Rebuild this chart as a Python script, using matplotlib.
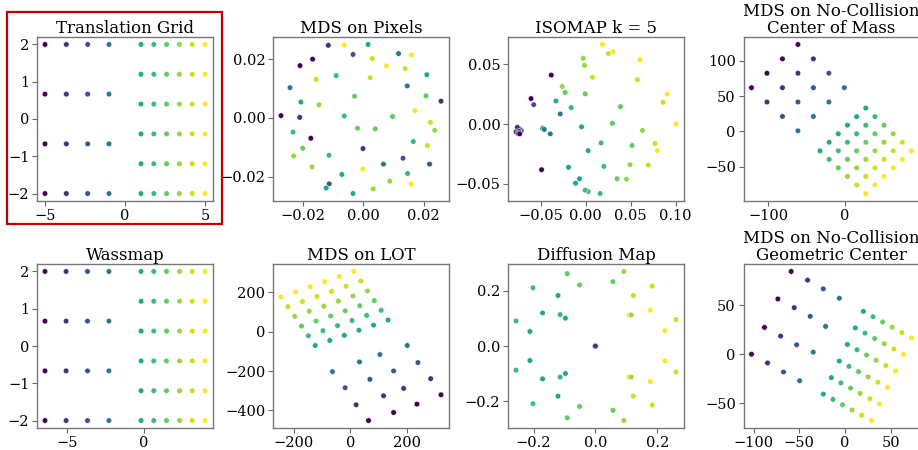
import numpy as np
import matplotlib
matplotlib.use('Agg')
import matplotlib.pyplot as plt
from matplotlib.patches import Rectangle

plt.rcParams['font.family'] = ['DejaVu Serif']

# colour of each point = x position of the object in the translation grid
GROUP_X = [-5, -3.667, -2.333, -1, 1, 1.8, 2.6, 3.4, 4.2, 5]

# shared group order for the grid-like panels (4 left columns x4, 6 right columns x6)
GRID_G = [0, 0, 0, 0, 1, 1, 1, 1, 2, 2, 2, 2, 3, 3, 3, 3,
          4, 4, 4, 4, 4, 4, 5, 5, 5, 5, 5, 5, 6, 6, 6, 6, 6, 6,
          7, 7, 7, 7, 7, 7, 8, 8, 8, 8, 8, 8, 9, 9, 9, 9, 9, 9]

# Translation Grid
TRANS_X = [-5, -5, -5, -5, -3.667, -3.667, -3.667, -3.667,
           -2.333, -2.333, -2.333, -2.333, -1, -1, -1, -1,
           1, 1, 1, 1, 1, 1, 1.8, 1.8, 1.8, 1.8, 1.8, 1.8,
           2.6, 2.6, 2.6, 2.6, 2.6, 2.6, 3.4, 3.4, 3.4, 3.4, 3.4, 3.4,
           4.2, 4.2, 4.2, 4.2, 4.2, 4.2, 5, 5, 5, 5, 5, 5]
TRANS_Y = [2, 0.667, -0.667, -2, 2, 0.667, -0.667, -2,
           2, 0.667, -0.667, -2, 2, 0.667, -0.667, -2,
           2, 1.2, 0.4, -0.4, -1.2, -2, 2, 1.2, 0.4, -0.4, -1.2, -2,
           2, 1.2, 0.4, -0.4, -1.2, -2, 2, 1.2, 0.4, -0.4, -1.2, -2,
           2, 1.2, 0.4, -0.4, -1.2, -2, 2, 1.2, 0.4, -0.4, -1.2, -2]

# Wassmap
WASS_X = [-6.41, -6.41, -6.41, -6.41, -5.04, -5.04, -5.04, -5.04,
          -3.65, -3.65, -3.65, -3.65, -2.26, -2.26, -2.26, -2.26,
          -0.17, -0.17, -0.17, -0.17, -0.17, -0.17, 0.65, 0.65, 0.65, 0.65, 0.65, 0.65,
          1.48, 1.48, 1.48, 1.48, 1.48, 1.48, 2.33, 2.33, 2.33, 2.33, 2.33, 2.33,
          3.15, 3.15, 3.15, 3.15, 3.15, 3.15, 3.98, 3.98, 3.98, 3.98, 3.98, 3.98]
WASS_Y = TRANS_Y

# MDS on Pixels
PIX_X = [-0.0116, -0.0063, 0.0016, -0.0034, 0.0117, 0.0160, 0.0030, -0.0210, -0.0168,
         0.0077, 0.0139, -0.0090, -0.0156, 0.0023, 0.0211, -0.0243, 0.0146, -0.0207,
         -0.0147, -0.0029, 0.0208, 0.0258, -0.0273, -0.0211, -0.0063, 0.0097, 0.0171,
         0.0223, 0.0237, -0.0233, -0.0019, 0.0040, -0.0174, -0.0201, -0.0001, 0.0166,
         0.0213, -0.0231, -0.0114, -0.0170, 0.0067, 0.0132, 0.0220, -0.0071, -0.0001,
         0.0088, 0.0147, 0.0159, -0.0113, -0.0123, -0.0034, 0.0033]
PIX_Y = [0.0247, 0.0248, 0.0250, 0.0216, 0.0219, 0.0214, 0.0202, 0.0178, 0.0200,
         0.0177, 0.0168, 0.0144, 0.0131, 0.0137, 0.0147, 0.0103, 0.0109, 0.0054,
         0.0045, 0.0074, 0.0075, 0.0057, 0.0008, 0.0002, 0.0007, 0.0005, 0.0025,
         -0.0015, -0.0042, -0.0048, -0.0035, -0.0037, -0.0069, -0.0103, -0.0104, -0.0080,
         -0.0094, -0.0129, -0.0127, -0.0166, -0.0157, -0.0137, -0.0157, -0.0192, -0.0174,
         -0.0215, -0.0189, -0.0225, -0.0224, -0.0238, -0.0257, -0.0241]
PIX_G = [1, 9, 4, 2, 3, 9, 8, 0, 0, 9, 8, 5, 8, 8, 4, 3, 3, 4, 7, 6, 6, 1, 0, 1, 5, 6,
         9, 8, 7, 5, 6, 6, 0, 6, 1, 5, 8, 7, 5, 7, 3, 2, 2, 4, 9, 7, 5, 9, 2, 4, 4, 7]

# ISOMAP k = 5
ISO_X = [0.0185, 0.0304, 0.0604, 0.0907, 0.1004, 0.0796,
         0.0252, 0.0074, 0.0574, 0.0859, 0.0770, 0.0696,
         -0.0030, -0.0015, 0.0630, 0.0493, 0.0452, -0.0263,
         -0.0007, 0.0385, 0.0296, 0.0515, 0.0348, -0.0230,
         -0.0163, 0.0170, 0.0200, 0.0026, 0.0159, -0.0007,
         -0.0333, -0.0048, 0.0026, -0.0193, -0.0070, -0.0115,
         -0.0285, -0.0481, -0.0463, -0.0396,
         -0.0581, -0.0733, -0.0719, -0.0741,
         -0.0763, -0.0778, -0.0748, -0.0756,
         -0.0385, -0.0611, -0.0737, -0.0493]
ISO_Y = [0.0668, 0.0608, 0.0541, 0.0251, 0.0000, -0.0223,
         0.0592, 0.0392, 0.0372, 0.0183, -0.0163, -0.0344,
         0.0552, 0.0493, -0.0054, -0.0341, -0.0462, 0.0315,
         0.0254, 0.0146, 0.0006, -0.0180, -0.0459, 0.0265,
         0.0138, -0.0158, -0.0355, -0.0566, -0.0583, -0.0555,
         0.0194, -0.0023, -0.0223, -0.0363, -0.0459, -0.0496,
         0.0085, -0.0037, -0.0045, -0.0082,
         0.0163, -0.0051, -0.0054, -0.0039,
         -0.0028, -0.0065, -0.0062, -0.0079,
         0.0411, 0.0214, -0.0082, -0.0383]
ISO_G = [9, 9, 9, 9, 9, 9, 8, 8, 8, 8, 8, 8, 7, 7, 7, 7, 7, 7,
         6, 6, 6, 6, 6, 6, 5, 5, 5, 5, 5, 5, 4, 4, 4, 4, 4, 4,
         3, 3, 3, 3, 2, 2, 2, 2, 1, 1, 1, 1, 0, 0, 0, 0]

# MDS on No-Collision Center of Mass
COM_X = [-61.2, -81.5, -101.8, -122.1, -40.9, -61.2, -81.5, -101.8,
         -20.6, -40.9, -61.2, -81.5, -0.3, -20.6, -40.9, -61.2,
         -32.2, -20.2, -8.2, 3.8, 15.8, 27.8, -20.2, -8.2, 3.8, 15.8, 27.8, 39.8,
         -8.2, 3.8, 15.8, 27.8, 39.8, 51.8, 3.8, 15.8, 27.8, 39.8, 51.8, 63.8,
         15.8, 27.8, 39.8, 51.8, 63.8, 75.8, 27.8, 39.8, 51.8, 63.8, 75.8, 87.8]
COM_Y = [123.0, 102.7, 82.3, 61.9, 102.7, 82.3, 61.9, 41.6,
         82.3, 61.9, 41.6, 21.2, 61.9, 41.6, 21.2, 0.9,
         -27.4, -15.3, -3.3, 8.8, 20.9, 33.0, -39.5, -27.4, -15.3, -3.3, 8.8, 20.9,
         -51.5, -39.5, -27.4, -15.3, -3.3, 8.8, -63.6, -51.5, -39.5, -27.4, -15.3, -3.3,
         -75.7, -63.6, -51.5, -39.5, -27.4, -15.3, -87.8, -75.7, -63.6, -51.5, -39.5, -27.4]

# MDS on LOT
LOT_X = [318.8, 234.1, 151.8, 63.5, 282.4, 187.1, 116.5, 20.0,
         237.6, 151.8, 68.2, -18.8, 200.0, 103.5, 31.8, -63.5,
         -124.2, -72.9, -21.6, 29.7, 81.0, 132.3,
         -148.3, -97.0, -45.7, 5.6, 56.9, 108.2,
         -172.4, -121.1, -69.8, -18.5, 32.8, 84.1,
         -196.5, -145.2, -93.9, -42.6, 8.7, 60.0,
         -220.6, -169.3, -118.0, -66.7, -15.4, 35.9,
         -244.7, -193.4, -142.1, -90.8, -39.5, 11.8]
LOT_Y = [-320.0, -367.7, -410.2, -451.1, -238.3, -287.7, -325.1, -371.1,
         -156.6, -199.1, -241.7, -284.3, -69.8, -115.7, -153.2, -202.6,
         -70.0, -44.1, -18.2, 7.7, 33.6, 59.5,
         -20.6, 5.3, 31.2, 57.1, 83.0, 108.9,
         28.8, 54.7, 80.6, 106.5, 132.4, 158.3,
         78.2, 104.1, 130.0, 155.9, 181.8, 207.7,
         127.6, 153.5, 179.4, 205.3, 231.2, 257.1,
         177.0, 202.9, 228.8, 254.7, 280.6, 306.5]

# Diffusion Map (left-block images all collapse onto the origin)
DIFF_X = [-0.091, 0.092, -0.202, -0.051, 0.057, 0.184, -0.121, 0.123, -0.171,
          -0.114, -0.097, 0.178, -0.257, -0.212, 0.108, 0.116, 0.261, 0.225,
          -0.091, 0.092, -0.202, -0.051, 0.057, 0.184, -0.121, 0.123, -0.171,
          -0.114, -0.097, 0.178, -0.257, -0.212, 0.108, 0.116, 0.261, 0.225,
          0, 0, 0, 0, 0, 0, 0, 0, 0, 0, 0, 0, 0, 0, 0, 0]
DIFF_Y = [0.262, 0.270, 0.211, 0.221, 0.233, 0.217, 0.183, 0.183, 0.120,
          0.114, 0.101, 0.130, 0.091, 0.053, 0.112, 0.113, 0.096, 0.056,
          -0.259, -0.269, -0.208, -0.218, -0.232, -0.213, -0.181, -0.181, -0.118,
          -0.112, -0.099, -0.128, -0.087, -0.052, -0.112, -0.112, -0.093, -0.053,
          0, 0, 0, 0, 0, 0, 0, 0, 0, 0, 0, 0, 0, 0, 0, 0]
DIFF_G = [6, 7, 5, 6, 6, 8, 4, 8, 4, 5, 4, 9, 5, 4, 9, 7, 8, 9,
          6, 7, 5, 6, 6, 8, 4, 8, 4, 5, 4, 9, 5, 4, 9, 7, 8, 9,
          0, 0, 0, 0, 2, 2, 2, 2, 3, 3, 3, 3, 1, 1, 1, 1]

# MDS on No-Collision Geometric Center
GC_X = [-102.2, -88.0, -73.4, -58.8, -84.7, -70.4, -55.5, -40.9,
        -67.2, -52.9, -38.0, -23.7, -49.6, -34.7, -21.2, -6.2,
        20.1, 11.3, 2.6, -6.2, -14.9, -23.7, 30.6, 21.9, 13.1, 4.3, -4.4, -13.2,
        41.1, 32.4, 23.6, 14.8, 6.1, -2.7, 51.6, 42.9, 34.1, 25.4, 16.6, 7.8,
        62.1, 53.4, 44.6, 35.9, 27.1, 18.3, 72.7, 63.9, 55.1, 46.4, 37.6, 28.9]
GC_Y = [0.0, 27.4, 56.5, 84.6, -8.9, 18.5, 47.6, 75.7,
        -18.2, 9.6, 38.7, 66.8, -27.1, 2.1, 28.4, 57.2,
        43.8, 26.9, 10.0, -7.0, -23.9, -40.8, 38.4, 21.5, 4.6, -12.4, -29.3, -46.2,
        33.0, 16.1, -0.8, -17.8, -34.7, -51.6, 27.6, 10.7, -6.2, -23.2, -40.1, -57.0,
        22.2, 5.3, -11.6, -28.6, -45.5, -62.4, 16.7, -0.2, -17.1, -34.0, -50.9, -67.8]

panels = [
    ("Translation Grid", TRANS_X, TRANS_Y, GRID_G, [-5, 0, 5], [-2, -1, 0, 1, 2]),
    ("MDS on Pixels", PIX_X, PIX_Y, PIX_G, [-0.02, 0, 0.02], [-0.02, 0, 0.02]),
    ("ISOMAP k = 5", ISO_X, ISO_Y, ISO_G, [-0.05, 0, 0.05, 0.1], [-0.05, 0, 0.05]),
    ("MDS on No-Collision\nCenter of Mass", COM_X, COM_Y, GRID_G, [-100, 0], [-50, 0, 50, 100]),
    ("Wassmap", WASS_X, WASS_Y, GRID_G, [-5, 0], [-2, -1, 0, 1, 2]),
    ("MDS on LOT", LOT_X, LOT_Y, GRID_G, [-200, 0, 200], [-400, -200, 0, 200]),
    ("Diffusion Map", DIFF_X, DIFF_Y, DIFF_G, [-0.2, 0, 0.2], [-0.2, 0, 0.2]),
    ("MDS on No-Collision\nGeometric Center", GC_X, GC_Y, GRID_G, [-100, -50, 0, 50], [-50, 0, 50]),
]

W, H = 918, 450
fig = plt.figure(figsize=(W / 100, H / 100), dpi=100)

col_left = [37, 273, 508, 743.5]
row_bottom = [201, 428]
ax_w, ax_h = 176, 164

cmap = plt.get_cmap('viridis')
for k, (title, xs, ys, gs, xt, yt) in enumerate(panels):
    r, c = divmod(k, 4)
    ax = fig.add_axes([col_left[c] / W, (H - row_bottom[r]) / H, ax_w / W, ax_h / H])
    vals = np.array([GROUP_X[g] for g in gs])
    ax.scatter(xs, ys, c=vals, cmap=cmap, vmin=-5, vmax=5, s=16,
               edgecolors='white', linewidths=0.35, zorder=3)
    ax.set_title(title, fontsize=12, pad=3, linespacing=0.95)
    ax.set_xticks(xt)
    ax.set_yticks(yt)
    ax.tick_params(labelsize=10.5, colors='#666666', labelcolor='black',
                   length=3.5, width=0.8, pad=2)
    for sp in ax.spines.values():
        sp.set_color('#777777')
        sp.set_linewidth(1.0)

# red frame around the first panel
fig.patches.append(Rectangle((7 / W, (H - 224) / H), 215 / W, 212 / H,
                             transform=fig.transFigure, fill=False,
                             edgecolor='#c00000', linewidth=1.6))

fig.savefig('out.png', dpi=100)
